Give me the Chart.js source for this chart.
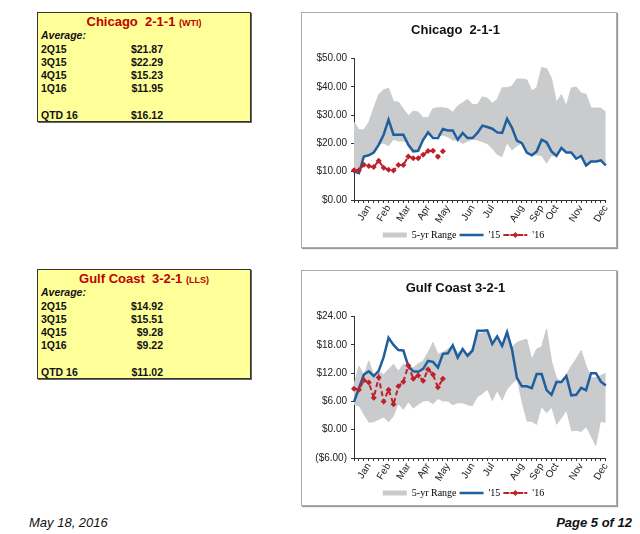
<!DOCTYPE html>
<html>
<head>
<meta charset="utf-8">
<script src="https://cdn.jsdelivr.net/npm/chart.js@4.4.1/dist/chart.umd.min.js"></script>
<style>
body{margin:0;background:#fff;width:640px;height:534px;position:relative;overflow:hidden;font-family:"Liberation Sans",Arial,sans-serif;color:#111;}
.tbl{position:absolute;left:37px;width:212px;height:108px;background:#ffff99;border:1px solid #333;box-shadow:1px 1px 0 #666;}
.tbl div{position:absolute;left:3px;font-weight:bold;font-size:10.5px;line-height:12px;white-space:nowrap;}
.tbl .v{left:auto;right:87px;}
.tbl .ttl{left:0;right:0;text-align:center;color:#c00000;font-size:13px;line-height:15px;}
.tbl .ttl small{font-size:9px;}
.tbl .avg{font-style:italic;}
.box{position:absolute;left:301px;width:314px;height:234px;border:1px solid #aaa;box-shadow:1px 1px 1px #999;background:#fff;}
.box canvas{position:absolute;left:0;top:0;}
.foot{position:absolute;top:515px;font-size:13px;font-style:italic;}
</style>
</head>
<body>

<div class="tbl" style="top:12px">
  <div class="ttl" style="top:1px">Chicago&nbsp; 2-1-1 <small>(WTI)</small></div>
  <div class="avg" style="top:16px">Average:</div>
  <div style="top:30px">2Q15</div><div class="v" style="top:30px">$21.87</div>
  <div style="top:43px">3Q15</div><div class="v" style="top:43px">$22.29</div>
  <div style="top:56px">4Q15</div><div class="v" style="top:56px">$15.23</div>
  <div style="top:69px">1Q16</div><div class="v" style="top:69px">$11.95</div>
  <div style="top:96px">QTD 16</div><div class="v" style="top:96px">$16.12</div>
</div>

<div class="tbl" style="top:269px">
  <div class="ttl" style="top:1px">Gulf Coast&nbsp; 3-2-1 <small>(LLS)</small></div>
  <div class="avg" style="top:16px">Average:</div>
  <div style="top:30px">2Q15</div><div class="v" style="top:30px">$14.92</div>
  <div style="top:43px">3Q15</div><div class="v" style="top:43px">$15.51</div>
  <div style="top:56px">4Q15</div><div class="v" style="top:56px">$9.28</div>
  <div style="top:69px">1Q16</div><div class="v" style="top:69px">$9.22</div>
  <div style="top:96px">QTD 16</div><div class="v" style="top:96px">$11.02</div>
</div>

<div class="box" style="top:12px"><canvas id="c1" width="314" height="237"></canvas></div>
<div class="box" style="top:270px"><canvas id="c2" width="314" height="237"></canvas></div>

<div class="foot" style="left:29px">May 18, 2016</div>
<div class="foot" style="right:8px;font-weight:bold">Page 5 of 12</div>

<script>
"use strict";

// month label sits on this week index (52 weekly points)
let monthNames = ['Jan','Feb','Mar','Apr','May','Jun','Jul','Aug','Sep','Oct','Nov','Dec'];
let monthWeek = [3, 7, 11, 15, 19, 24, 28, 34, 38, 41, 46, 51];

// Chicago 2-1-1
let chi15 = [10.1, 9.5, 15.4, 15.8, 16.8, 19.5, 23.1, 28.4, 23.1, 23.1, 23.1, 19.5, 17.2, 17.4, 21.3, 23.9, 21.9, 21.9, 25.1, 24.6, 24.6, 21.3, 23.7, 21.9, 21.9, 23.7,
             26.3, 25.8, 25.2, 23.9, 23.7, 28.7, 25.5, 21.0, 20.1, 16.8, 15.8, 17.2, 21.3, 20.4, 17.2, 15.6, 18.4, 16.8, 16.8, 14.6, 15.6, 12.2, 13.6, 13.6, 14.0, 12.2];
let chi16 = [10.5, 10.5, 12.5, 12.0, 11.7, 13.9, 11.4, 10.7, 10.4, 12.4, 12.4, 15.4, 14.8, 14.8, 16.0, 17.3, 17.4, 15.3, 17.2];
let chiMin = [10.5, 10.0, 15.0, 15.6, 16.6, 19.5, 20.0, 19.0, 21.3, 20.7, 20.7, 20.1, 17.5, 17.5, 21.0, 23.0, 22.5, 22.7, 22.7, 22.2, 21.0, 21.0, 19.8, 20.7, 21.3, 21.0,
              20.4, 19.8, 18.0, 16.0, 15.2, 20.0, 17.5, 19.0, 20.0, 16.5, 15.6, 15.8, 15.5, 12.8, 15.5, 15.5, 18.0, 16.6, 16.6, 14.4, 15.4, 12.0, 13.4, 13.4, 13.8, 12.0];
let chiMax = [27.5, 24.8, 24.8, 27.5, 32.5, 37.3, 39.0, 39.5, 34.8, 34.6, 32.2, 29.8, 31.4, 31.1, 29.1, 29.1, 32.3, 32.6, 32.6, 32.3, 31.0, 33.2, 34.4, 35.6, 33.8, 33.8,
              36.5, 36.0, 34.2, 35.5, 39.7, 39.7, 40.3, 42.8, 42.8, 42.5, 38.6, 39.7, 46.8, 46.5, 43.0, 34.5, 37.3, 33.2, 39.6, 40.0, 37.8, 37.4, 32.5, 32.5, 32.5, 31.0];
let chiTicks = [0, 10, 20, 30, 40, 50];

// Gulf Coast 3-2-1
let gulf15 = [5.9, 8.8, 11.7, 12.4, 11.4, 12.5, 15.4, 19.5, 18.0, 16.9, 16.8, 13.5, 12.4, 12.3, 12.9, 14.6, 14.4, 13.2, 16.1, 16.2, 17.9, 15.3, 17.1, 15.7, 16.8, 21.0,
              21.0, 21.1, 18.2, 19.8, 17.8, 20.7, 17.0, 11.0, 9.2, 9.2, 8.8, 11.8, 11.8, 8.4, 7.4, 10.1, 10.1, 11.4, 7.3, 7.4, 8.9, 8.4, 12.0, 12.0, 10.2, 9.4];
let gulf16 = [8.7, 8.5, 10.5, 10.0, 6.8, 11.1, 6.0, 8.5, 5.4, 9.2, 10.2, 13.6, 10.8, 11.5, 10.4, 12.8, 11.7, 9.0, 10.8];
let gulfMin = [5.3, 5.0, 3.1, 1.5, 1.6, 2.1, 2.6, 1.6, 2.8, 5.4, 4.2, 5.8, 4.5, 5.3, 6.0, 6.1, 5.4, 6.5, 6.0, 6.0, 5.2, 5.6, 5.6, 5.2, 5.0, 6.9,
               7.6, 8.5, 6.0, 8.1, 6.1, 8.5, 9.7, 10.6, 5.6, 1.7, 1.7, 1.0, 4.7, 3.5, 4.6, 1.0, 2.4, 3.9, -0.3, -0.2, -0.5, 0.5, -1.5, -3.6, 1.7, 1.4];
let gulfMax = [9.5, 13.5, 11.5, 14.6, 11.5, 12.4, 11.7, 12.8, 13.9, 12.4, 13.9, 13.5, 13.1, 14.0, 14.6, 16.4, 18.5, 16.0, 16.4, 17.1, 17.8, 16.4, 16.7, 16.0, 17.4, 20.3,
               20.5, 20.8, 18.0, 19.5, 17.6, 20.5, 17.5, 18.5, 18.9, 19.2, 14.9, 17.1, 17.6, 21.4, 14.5, 11.0, 10.0, 11.5, 13.5, 15.0, 16.8, 13.5, 11.0, 11.0, 11.5, 12.0];
let gulfTicks = [-6, 0, 6, 12, 18, 24];

let blue = '#1f5f9e';
let red = '#c0202a';
let grey = '#c9cbcd';
let axisCol = '#333';
let sans = '"Liberation Sans", Arial, sans-serif';
let legendShift = 8; // legend sits a bit right of the canvas centre

let labels = [];
for (let i = 0; i < chi15.length; i++) {
    let k = monthWeek.indexOf(i);
    labels.push(k >= 0 ? monthNames[k] : '');
}

function money(v) {
    if (v < 0) return '($' + Math.abs(v).toFixed(2) + ')';
    return '$' + v.toFixed(2);
}

// nudge the legend right, and put a little diamond on the '16 swatch
let legendTweak = {
    id: 'legendTweak',
    afterUpdate(chart) { chart.$shifted = false; },
    beforeDraw(chart) {
        let lg = chart.legend;
        if (chart.$shifted || !lg) return;
        lg.left += legendShift;
        lg.right += legendShift;
        lg.legendHitBoxes.forEach(b => { b.left += legendShift; });
        chart.$shifted = true;
    },
    afterDraw(chart) {
        let hb = chart.legend.legendHitBoxes[2];
        if (!hb) return;
        let ctx = chart.ctx;
        let x = hb.left + 12, y = hb.top + hb.height / 2;
        ctx.save();
        ctx.fillStyle = red;
        ctx.beginPath();
        ctx.moveTo(x, y - 3); ctx.lineTo(x + 3, y); ctx.lineTo(x, y + 3); ctx.lineTo(x - 3, y);
        ctx.closePath();
        ctx.fill();
        ctx.restore();
    }
};

function makeChart(id, title, s15, s16, smin, smax, ticks) {
    let opts = {
        type: 'line',
        data: {
            labels: labels,
            datasets: [
                {label: "'16", data: s16, borderColor: red, borderWidth: 2, borderDash: [5, 3],
                 pointStyle: 'rectRot', pointRadius: 3, pointBackgroundColor: red, pointBorderWidth: 0, fill: false},
                {label: "'15", data: s15, borderColor: blue, borderWidth: 2.5, pointRadius: 0, fill: false},
                {label: 'min', data: smin, borderColor: 'rgba(0,0,0,0)', borderWidth: 1, pointRadius: 0, fill: false},
                {label: '5-yr Range', data: smax, borderColor: grey, borderWidth: 1, pointRadius: 0,
                 backgroundColor: grey, fill: '-1'},
            ],
        },
        options: {
            responsive: false,
            animation: false,
            layout: {padding: {left: 0, right: 7, top: 0, bottom: 0}},
            plugins: {
                title: {display: true, text: title, color: '#111',
                        font: {family: sans, size: 13, weight: 'bold'}, padding: {top: 10, bottom: 20}},
                tooltip: {enabled: false},
                legend: {
                    position: 'bottom',
                    labels: {
                        boxWidth: 24, boxHeight: 0, padding: 3, color: '#222',
                        font: {family: '"Liberation Serif", "Times New Roman", serif', size: 10},
                        generateLabels: () => [
                            {text: '5-yr Range', fillStyle: 'rgba(0,0,0,0)', strokeStyle: grey, lineWidth: 5, lineDash: [], hidden: false, datasetIndex: 3},
                            {text: "'15", fillStyle: 'rgba(0,0,0,0)', strokeStyle: blue, lineWidth: 2.5, lineDash: [], hidden: false, datasetIndex: 1},
                            {text: "'16", fillStyle: 'rgba(0,0,0,0)', strokeStyle: red, lineWidth: 2, lineDash: [4, 3], hidden: false, datasetIndex: 0},
                        ],
                    },
                },
            },
            scales: {
                x: {
                    type: 'category',
                    offset: false,
                    border: {display: true, color: axisCol, width: 1},
                    grid: {drawOnChartArea: false, drawTicks: true, tickLength: 3, color: axisCol},
                    ticks: {autoSkip: false, maxRotation: 58, minRotation: 58, padding: 0, color: '#222',
                            font: {family: sans, size: 10}},
                    afterFit: (s) => { s.height = 27; },
                },
                y: {
                    min: ticks[0],
                    max: ticks[ticks.length - 1],
                    afterBuildTicks: (s) => { s.ticks = ticks.map(v => ({value: v})); },
                    border: {display: true, color: axisCol, width: 1},
                    grid: {drawOnChartArea: false, drawTicks: true, tickLength: 3, color: axisCol},
                    ticks: {padding: 4, color: '#222', font: {family: sans, size: 10},
                            callback: (v) => money(v)},
                    afterFit: (s) => { s.width = 52; },
                },
            },
        },
        plugins: [legendTweak],
    };
    return new Chart(document.querySelector(id), opts);
}

let chart1 = makeChart('#c1', 'Chicago  2-1-1', chi15, chi16, chiMin, chiMax, chiTicks);
let chart2 = makeChart('#c2', 'Gulf Coast 3-2-1', gulf15, gulf16, gulfMin, gulfMax, gulfTicks);
</script>
</body>
</html>
